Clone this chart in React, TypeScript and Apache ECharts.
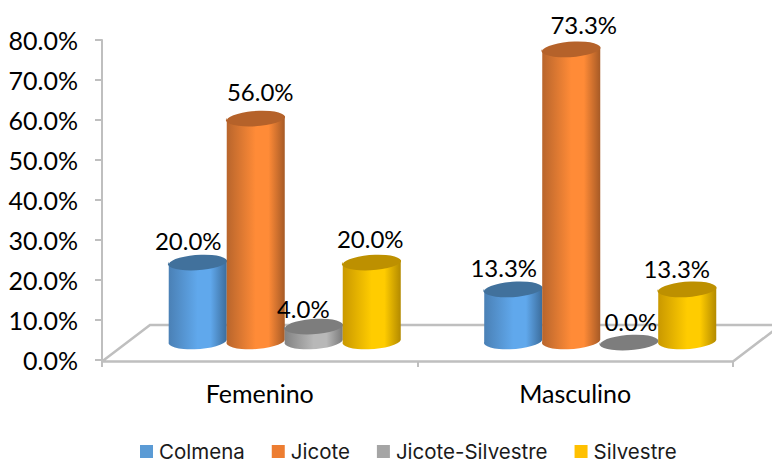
import React, { useEffect, useRef } from "react";
import * as echarts from "echarts";

const categories = ["Femenino", "Masculino"];
const colmena = [20.0, 13.3];
const jicote = [56.0, 73.3];
const jicoteSilvestre = [4.0, 0.0];
const silvestre = [20.0, 13.3];
const yTicksMax = 80;
const yTicksStep = 10;

const GRID = { left: 102, top: 40, width: 631, height: 320 };
const DEPTH_X = 25;
const DEPTH_Y = -18;
const STEP = 58;
const RX = 29;
const RY = 8;
const TILT = 2;
const FONT = "Lato";
const LINE = "#bfbfbf";

type Look = { name: string; values: number[]; legend: string; edgeL: string; mid: string; edgeR: string; top: string; labelDx: number[]; labelDy: number[] };
const looks: Look[] = [
  { name: "Colmena", values: colmena, legend: "#5b9bd5", edgeL: "#4a80b5", mid: "#60a8ec", edgeR: "#3c6d9c", top: "#41719c", labelDx: [-9.5, -9.5], labelDy: [-22, -21] },
  { name: "Jicote", values: jicote, legend: "#ed7d31", edgeL: "#b8652c", mid: "#ff8b37", edgeR: "#a65a26", top: "#b5622a", labelDx: [4.5, 12.5], labelDy: [-27, -24] },
  { name: "Jicote-Silvestre", values: jicoteSilvestre, legend: "#a5a5a5", edgeL: "#828282", mid: "#b8b8b8", edgeR: "#7a7a7a", top: "#7d7d7d", labelDx: [-10.5, 1.5], labelDy: [-18, -21] },
  { name: "Silvestre", values: silvestre, legend: "#ffc000", edgeL: "#c99800", mid: "#ffcc00", edgeR: "#b38a00", top: "#bd9000", labelDx: [-1.5, -10.5], labelDy: [-24, -20] },
];

function cylinderItem(seriesIndex: number, look: Look) {
  return (_params: any, api: any) => {
    const cat = api.value(0);
    const val = api.value(1);
    const top = api.coord([cat, val]);
    const base = api.coord([cat, 0]);
    const cx = top[0] + DEPTH_X + (seriesIndex - 1.5) * STEP;
    const yT = top[1] + DEPTH_Y;
    const yB = base[1] + DEPTH_Y;
    const x0 = cx - RX;
    const x1 = cx + RX;
    const children: any[] = [];
    if (val > 0) {
      children.push({
        type: "path",
        shape: {
          pathData: `M${x0} ${yT + TILT}L${x1} ${yT - TILT}L${x1} ${yB - TILT}A${RX} ${RY} -4 0 1 ${x0} ${yB + TILT}Z`,
        },
        style: {
          fill: new echarts.graphic.LinearGradient(0, 0, 1, 0, [
            { offset: 0, color: look.edgeL },
            { offset: 0.5, color: look.mid },
            { offset: 0.72, color: look.mid },
            { offset: 1, color: look.edgeR },
          ]),
        },
      });
    }
    children.push({
      type: "path",
      shape: {
        pathData: `M${x0} ${yT + TILT}A${RX} ${RY} -4 0 1 ${x1} ${yT - TILT}A${RX} ${RY} -4 0 1 ${x0} ${yT + TILT}Z`,
      },
      style: { fill: look.top },
    });
    children.push({
      type: "text",
      z2: 100,
      style: {
        text: val.toFixed(1) + "%",
        x: cx + look.labelDx[cat],
        y: yT + look.labelDy[cat],
        align: "center",
        verticalAlign: "middle",
        fill: "#000",
        font: `24px ${FONT}`,
      },
    });
    return { type: "group", children };
  };
}

function floorItem(params: any) {
  const c = params.coordSys;
  const x0 = c.x;
  const x1 = c.x + c.width;
  const y = c.y + c.height + 1.5;
  const dx = 48;
  const dy = -36.5;
  return {
    type: "polyline",
    z2: -10,
    shape: {
      points: [
        [x0, y],
        [x0 + dx, y + dy],
        [x1 + dx, y + dy],
        [x1, y],
        [x0, y],
      ],
    },
    style: { fill: "#fff", stroke: LINE, lineWidth: 2.5 },
    silent: true,
  };
}

export default function App() {
  const ref = useRef<HTMLDivElement>(null);
  useEffect(() => {
    document.body.style.margin = "0";
    const chart = echarts.init(ref.current!, undefined, { renderer: "svg" });
    chart.setOption({
      animation: false,
      backgroundColor: "#fff",
      grid: { ...GRID },
      legend: {
        left: 135,
        top: 436,
        padding: [5, 5, 0, 5],
        itemWidth: 13,
        itemHeight: 13,
        itemGap: 27,
        icon: "rect",
        data: looks.map((l) => l.name),
        textStyle: { fontFamily: "Inter", fontSize: 20.5, lineHeight: 20, color: "#1a1a1a", padding: [0, 0, 0, 1] },
      },
      xAxis: {
        type: "category",
        data: categories,
        axisLine: { lineStyle: { color: LINE, width: 2 } },
        axisTick: { show: true, length: 7, lineStyle: { color: LINE, width: 2 } },
        axisLabel: { color: "#000", fontFamily: FONT, fontSize: 25, margin: 20 },
        splitLine: { show: false },
      },
      yAxis: {
        type: "value",
        min: 0,
        max: yTicksMax,
        interval: yTicksStep,
        axisLine: { show: true, lineStyle: { color: LINE, width: 2 } },
        axisTick: { show: true, length: 7, lineStyle: { color: LINE, width: 2 } },
        axisLabel: { color: "#000", fontFamily: FONT, fontSize: 25, margin: 24, formatter: (v: number) => v.toFixed(1) + "%" },
        splitLine: { show: false },
      },
      series: [
        { type: "custom", name: "floor", silent: true, renderItem: floorItem, data: [[0, 0]], encode: { x: 0, y: 1 }, clip: false },
        ...looks.map((l, i) => ({
          type: "custom",
          name: l.name,
          itemStyle: { color: l.legend },
          renderItem: cylinderItem(i, l),
          data: l.values.map((v, k) => [k, v]),
          encode: { x: 0, y: 1 },
          clip: false,
        })),
      ],
    });
    return () => chart.dispose();
  }, []);
  return <div ref={ref} style={{ position: "absolute", left: 0, top: 0, width: 772, height: 464 }} />;
}
